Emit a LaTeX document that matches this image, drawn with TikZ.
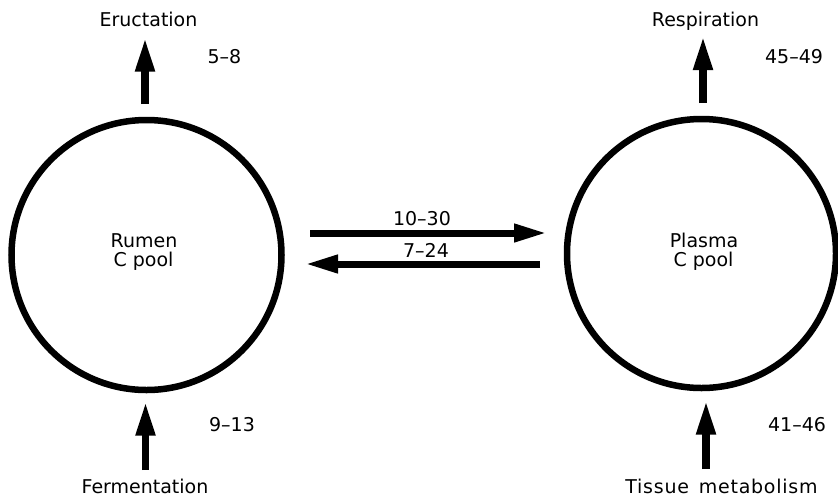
\documentclass[tikz,border=0pt]{standalone}
\usepackage{fontspec}
\setmainfont{DejaVu Sans}
\usetikzlibrary{arrows.meta}
\tikzset{
  pool/.style={draw, circle, line width=6.5pt, inner sep=0pt, outer sep=0pt},
  lbl/.style={inner sep=0pt, anchor=base, font=\fontsize{19}{19}\selectfont},
  vflow/.style={line width=7.5pt, -{Triangle[length=34pt,width=18pt]}},
  hflow/.style={line width=7pt, -{Triangle[length=33pt,width=17pt]}}
}
\begin{document}
\begin{tikzpicture}[x=1pt,y=-1pt]
\useasboundingbox (0,0) rectangle (838,499);
% pools
\node[pool, minimum size=270pt] (rumen) at (146.5,255) {};
\node[pool, minimum size=269pt] (plasma) at (701.5,253.5) {};
\node[lbl] (rumenA) at (144,247) {Rumen};
\node[lbl] (rumenB) at (143.5,266) {C pool};
\node[lbl] (plasmaA) at (704,247) {Plasma};
\node[lbl] (plasmaB) at (703.5,266) {C pool};
% outer labels
\node[lbl] (eruct) at (148.5,26) {Eructation};
\node[lbl] (eructv) at (224.5,63) {5--8};
\node[lbl] (resp) at (705.5,26) {Respiration};
\node[lbl] (respv) at (794,63) {45--49};
\node[lbl] (ferm) at (145,493) {Fermentation};
\node[lbl] (fermv) at (232,431) {9--13};
\node[lbl] (tissue) at (721.5,493) {\addfontfeature{LetterSpace=4}Tissue\hspace{3pt} metabolism};
\node[lbl] (tissuev) at (797,431) {41--46};
\node[lbl] (fwdv) at (422,225) {10--30};
\node[lbl] (backv) at (426,257) {7--24};
% arrow ends
\coordinate (eructtail) at (145,104);
\coordinate (eructtip) at (145,37.5);
\coordinate (resptail) at (703,103);
\coordinate (resptip) at (703,36);
\coordinate (fermtail) at (145.5,470);
\coordinate (fermtip) at (145.5,401.5);
\coordinate (tissuetail) at (706,469);
\coordinate (tissuetip) at (706,400.5);
\coordinate (fwdtail) at (310,233);
\coordinate (fwdtip) at (547,233);
\coordinate (backtail) at (540,264);
\coordinate (backtip) at (305,264);
% connectors
\draw[vflow] (eructtail) -- (eructtip);
\draw[vflow] (resptail) -- (resptip);
\draw[vflow] (fermtail) -- (fermtip);
\draw[vflow] (tissuetail) -- (tissuetip);
\draw[hflow] (fwdtail) -- (fwdtip);
\draw[hflow] (backtail) -- (backtip);
\end{tikzpicture}
\end{document}
